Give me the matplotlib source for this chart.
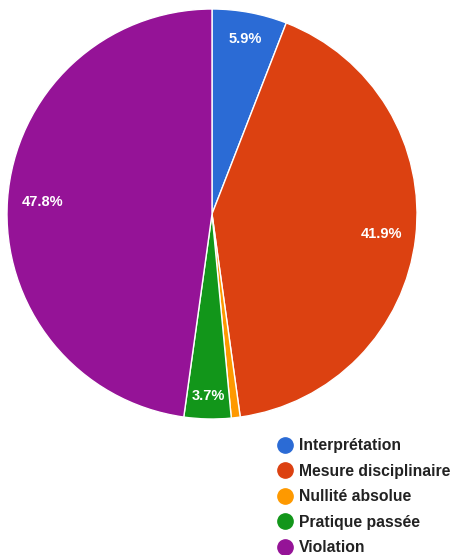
import numpy as np
import matplotlib.pyplot as plt
from matplotlib.lines import Line2D

# ========================
# Data
# ========================
categories = ["Interprétation", "Mesure disciplinaire", "Nullité absolue",
              "Pratique passée", "Violation"]
shares = [5.9, 41.9, 0.7, 3.7, 47.8]
colors = ["#2b6bd5", "#dc4111", "#fe9900", "#12961a", "#951397"]
# radial position of each percentage label (fraction of radius)
label_dist = [0.87, 0.83, 0.0, 0.89, 0.83]

plt.rcParams['font.family'] = ['Liberation Sans', 'DejaVu Sans']

# ========================
# Figure setup
# ========================
W, H = 455, 555
fig = plt.figure(figsize=(W / 100, H / 100), dpi=100)
cx, cy, r = 212, 214, 205
ax = fig.add_axes([(cx - r) / W, (H - cy - r) / H, 2 * r / W, 2 * r / H])

wedges, texts, autotexts = ax.pie(
    shares, colors=colors, startangle=90, counterclock=False,
    autopct=lambda p: f"{p:.1f}%" if p > 2 else "",
    wedgeprops=dict(edgecolor="white", linewidth=1),
    textprops=dict(color="white", fontweight="bold", fontsize=10.5))

# move labels out along each wedge's mid angle
for w, t, d in zip(wedges, autotexts, label_dist):
    mid = np.deg2rad((w.theta1 + w.theta2) / 2)
    t.set_position((d * np.cos(mid), d * np.sin(mid)))

ax.set_xlim(-1, 1)
ax.set_ylim(-1, 1)
ax.set_aspect("equal")
ax.axis("off")

# ========================
# Legend
# ========================
handles = [Line2D([], [], marker="o", linestyle="", markersize=11,
                  markerfacecolor=c, markeredgecolor=c) for c in colors]
fig.legend(handles, categories, loc="upper left",
           bbox_to_anchor=(277 / W, 1 - 438 / H), frameon=False,
           prop=dict(weight="bold", size=11.3), handletextpad=0.42,
           labelspacing=0.67, borderpad=0, handlelength=1.0,
           borderaxespad=0, labelcolor="#222222")

fig.savefig("out.png", dpi=100)
